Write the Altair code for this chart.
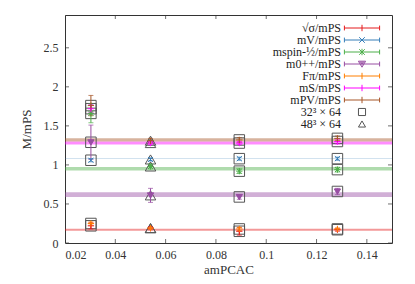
import altair as alt
import pandas as pd

# ---------------- data ----------------
ens_x = [0.0303, 0.054, 0.0893, 0.1283]
ens_lat = ["32³ × 64", "48³ × 64", "32³ × 64", "32³ × 64"]

series = ["√σ/mPS", "mV/mPS", "mspin-½/mPS", "m0++/mPS", "Fπ/mPS", "mS/mPS", "mPV/mPS"]
colors = ["#e41a1c", "#377eb8", "#4daf4a", "#984ea3", "#ff7f00", "#ff00ff", "#a65628"]

vals = {
    "√σ/mPS":      [0.22, 0.19, 0.15, 0.17],
    "mV/mPS":      [1.06, 1.07, 1.08, 1.08],
    "mspin-½/mPS": [1.66, 0.98, 0.92, 0.94],
    "m0++/mPS":    [1.29, 0.61, 0.59, 0.66],
    "Fπ/mPS":      [0.25, 0.19, 0.18, 0.18],
    "mS/mPS":      [1.72, 1.28, 1.28, 1.30],
    "mPV/mPS":     [1.76, 1.31, 1.32, 1.34],
}
errs = {
    "√σ/mPS":      [0.04, 0.02, 0.05, 0.02],
    "mV/mPS":      [0.02, 0.02, 0.02, 0.02],
    "mspin-½/mPS": [0.12, 0.03, 0.03, 0.03],
    "m0++/mPS":    [0.22, 0.09, 0.03, 0.04],
    "Fπ/mPS":      [0.02, 0.01, 0.02, 0.01],
    "mS/mPS":      [0.05, 0.02, 0.02, 0.03],
    "mPV/mPS":     [0.13, 0.03, 0.03, 0.03],
}

band_series = ["√σ/mPS", "mV/mPS", "mspin-½/mPS", "m0++/mPS", "mS/mPS", "mPV/mPS"]
band_center = [0.17, 1.085, 0.95, 0.62, 1.28, 1.32]
band_half = [0.013, 0.004, 0.022, 0.03, 0.02, 0.02]

x_domain = [0.02, 0.15]
y_domain = [0, 2.92]
x_ticks = [0.02, 0.04, 0.06, 0.08, 0.10, 0.12, 0.14]
y_ticks = [0, 0.5, 1, 1.5, 2, 2.5]
lattices = ["32³ × 64", "48³ × 64"]

# ---------------- tables ----------------
rows = []
for s in series:
    for i, x in enumerate(ens_x):
        v, e = vals[s][i], errs[s][i]
        rows.append(dict(series=s, x=x, y=v, lo=v - e, hi=v + e, lattice=ens_lat[i]))
df = pd.DataFrame(rows)
lat_rows = []
for s in series:
    for i, x in enumerate(ens_x):
        lat_rows.append(dict(x=x, y=vals[s][i], lattice=ens_lat[i]))
df_lat = pd.DataFrame(lat_rows)

df_band = pd.DataFrame(dict(series=band_series,
                            lo=[c - h for c, h in zip(band_center, band_half)],
                            hi=[c + h for c, h in zip(band_center, band_half)],
                            x=x_domain[0], x1=x_domain[1]))

# tick marks (gnuplot style: inside, mirrored on all four edges)
df_xt = pd.DataFrame([dict(x=t, y=e) for t in x_ticks for e in y_domain])
df_yt = pd.DataFrame([dict(x=e, y=t) for t in y_ticks for e in x_domain])

# ---------------- styling ----------------
FONT = "Liberation Serif"
W, H = 327, 228
cscale = alt.Scale(domain=series, range=colors)
xs = alt.Scale(domain=x_domain, nice=False, zero=False)
ys = alt.Scale(domain=y_domain, nice=False, zero=False)

common = dict(labelFont=FONT, titleFont=FONT, labelColor="#333", titleColor="#333",
              domain=False, grid=False, ticks=False, titleFontWeight="normal")
ax_x = alt.Axis(values=x_ticks, format="~g", title="amPCAC",
                labelPadding=6, labelFontSize=12, titleFontSize=13, titlePadding=3, **common)
ax_y = alt.Axis(values=y_ticks, format="~g", title="M/mPS",
                labelPadding=7, labelFontSize=12, titleFontSize=13, titlePadding=10, **common)

X = alt.X("x:Q", scale=xs, axis=ax_x)
Y = alt.Y("y:Q", scale=ys, axis=ax_y)

plus = "M-1,0H1M0,-1V1"
cross = "M-0.8,-0.8L0.8,0.8M-0.8,0.8L0.8,-0.8"
star = plus + cross
tri_down = "M-1,-0.8L1,-0.8L0,0.9Z"
point_shapes = [plus, cross, star, tri_down, plus, plus, plus]

bar = "M-4.4,0H4.4M-4.4,-0.6V0.6M4.4,-0.6V0.6"
mk_plus = "M0,-0.8V0.8"
mk_x = "M-0.7,-0.7L0.7,0.7M-0.7,0.7L0.7,-0.7"
mk_tri = "M-0.9,-0.7L0.9,-0.7L0,0.8ZM-0.6,-0.45L0.6,-0.45M-0.35,-0.15L0.35,-0.15M-0.15,0.2L0.15,0.2"
leg_shapes = [bar + mk_plus, bar + mk_x, bar + mk_plus + mk_x, bar + mk_tri,
              bar + mk_plus, bar + mk_plus, bar + mk_plus]

neg_off = {"expr": "-27"}
leg_common = dict(title=None, orient="none", labelAlign="right", labelOffset=neg_off,
                  symbolStrokeWidth=1, padding=0, labelBaseline="middle",
                  labelFont=FONT, labelFontSize=12, labelColor="#222")

bands = alt.Chart(df_band).mark_rect(opacity=0.45).encode(
    x=X, x2="x1:Q",
    y=alt.Y("lo:Q", scale=ys, axis=ax_y), y2="hi:Q",
    color=alt.Color("series:N", scale=cscale, legend=None),
)

xticks_l = alt.Chart(df_xt).mark_tick(orient="vertical", size=8, thickness=1, clip=True,
                                      color="#333").encode(x=X, y=Y)
yticks_l = alt.Chart(df_yt).mark_tick(orient="horizontal", size=8, thickness=1, clip=True,
                                      color="#333").encode(x=X, y=Y)

lat = alt.Chart(df_lat).mark_point(filled=False, size=110, strokeWidth=1, opacity=1).encode(
    x=X, y=Y,
    shape=alt.Shape("lattice:N",
                    scale=alt.Scale(domain=lattices, range=["square", "triangle-up"]),
                    legend=alt.Legend(legendX=291, legendY=91, symbolSize=50, rowPadding=0,
                                      symbolStrokeColor="#555", **leg_common)),
    color=alt.value("#555"),
)

rules = alt.Chart(df).mark_rule(strokeWidth=1).encode(
    x=X, y=alt.Y("lo:Q", scale=ys, axis=ax_y), y2="hi:Q",
    color=alt.Color("series:N", scale=cscale, legend=None),
)
caps_lo = alt.Chart(df).mark_tick(orient="horizontal", size=5, thickness=1).encode(
    x=X, y=alt.Y("lo:Q", scale=ys, axis=ax_y),
    color=alt.Color("series:N", scale=cscale, legend=None),
)
caps_hi = alt.Chart(df).mark_tick(orient="horizontal", size=5, thickness=1).encode(
    x=X, y=alt.Y("hi:Q", scale=ys, axis=ax_y),
    color=alt.Color("series:N", scale=cscale, legend=None),
)

pts = alt.Chart(df).mark_point(filled=False, size=40, strokeWidth=1, opacity=1).encode(
    x=X, y=Y,
    color=alt.Color("series:N", scale=cscale, legend=None),
    shape=alt.Shape("series:N", scale=alt.Scale(domain=series, range=point_shapes), legend=None),
    fill=alt.condition(alt.datum.series == "m0++/mPS", alt.value("#984ea3"), alt.value("transparent")),
)

leg = alt.Chart(df).transform_filter("datum.x < 0").mark_point(
    filled=False, size=64, strokeWidth=1, opacity=1).encode(
    x=X, y=Y,
    color=alt.Color("series:N", scale=cscale,
                    legend=alt.Legend(legendX=291, legendY=7, symbolSize=64, rowPadding=0,
                                      **leg_common)),
    shape=alt.Shape("series:N", scale=alt.Scale(domain=series, range=leg_shapes)),
)

chart = alt.layer(bands, xticks_l, yticks_l, lat, rules, caps_lo, caps_hi, pts, leg).resolve_scale(
    shape="independent", color="independent"
).properties(
    width=W, height=H,
    autosize=alt.AutoSizeParams(type="none"),
    padding={"left": 57, "top": 7, "right": 15, "bottom": 38},
).configure_view(
    stroke="#333", strokeWidth=1
)

chart.save("out.html", embed_options={"renderer": "svg", "actions": False})
